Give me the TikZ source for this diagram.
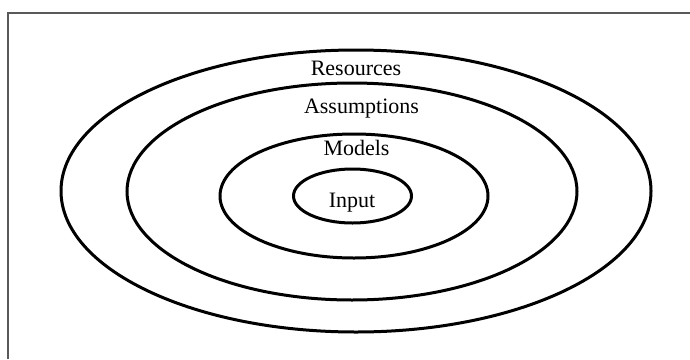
\documentclass[tikz,border=0pt]{standalone}
\usepackage{fontspec}
\setmainfont{Liberation Serif}
\begin{document}
\begin{tikzpicture}[x=1pt,y=-1pt,
  ring/.style={draw=black,line width=3pt},
  lbl/.style={font=\fontsize{22}{26}\selectfont,inner sep=0pt,anchor=base},
  frame/.style={draw=black!65,line width=1.2pt}]
\useasboundingbox (0,0) rectangle (690,359);
% open frame, running off the right and bottom edges
\draw[frame] (8,359) -- (8,13) -- (690,13);
% nested rings
\draw[ring] (356,191) ellipse [x radius=295, y radius=141];
\draw[ring] (352,191.5) ellipse [x radius=225, y radius=108.5];
\draw[ring] (354,196) ellipse [x radius=134, y radius=62];
\draw[ring] (352.5,196) ellipse [x radius=59, y radius=27];
% labels
\node[lbl] (res) at (356,75) {Resources};
\node[lbl] (ass) at (361.5,113) {Assumptions};
\node[lbl] (mod) at (356.5,155) {Models};
\node[lbl] (inp) at (352,207) {Input};
\end{tikzpicture}
\end{document}
